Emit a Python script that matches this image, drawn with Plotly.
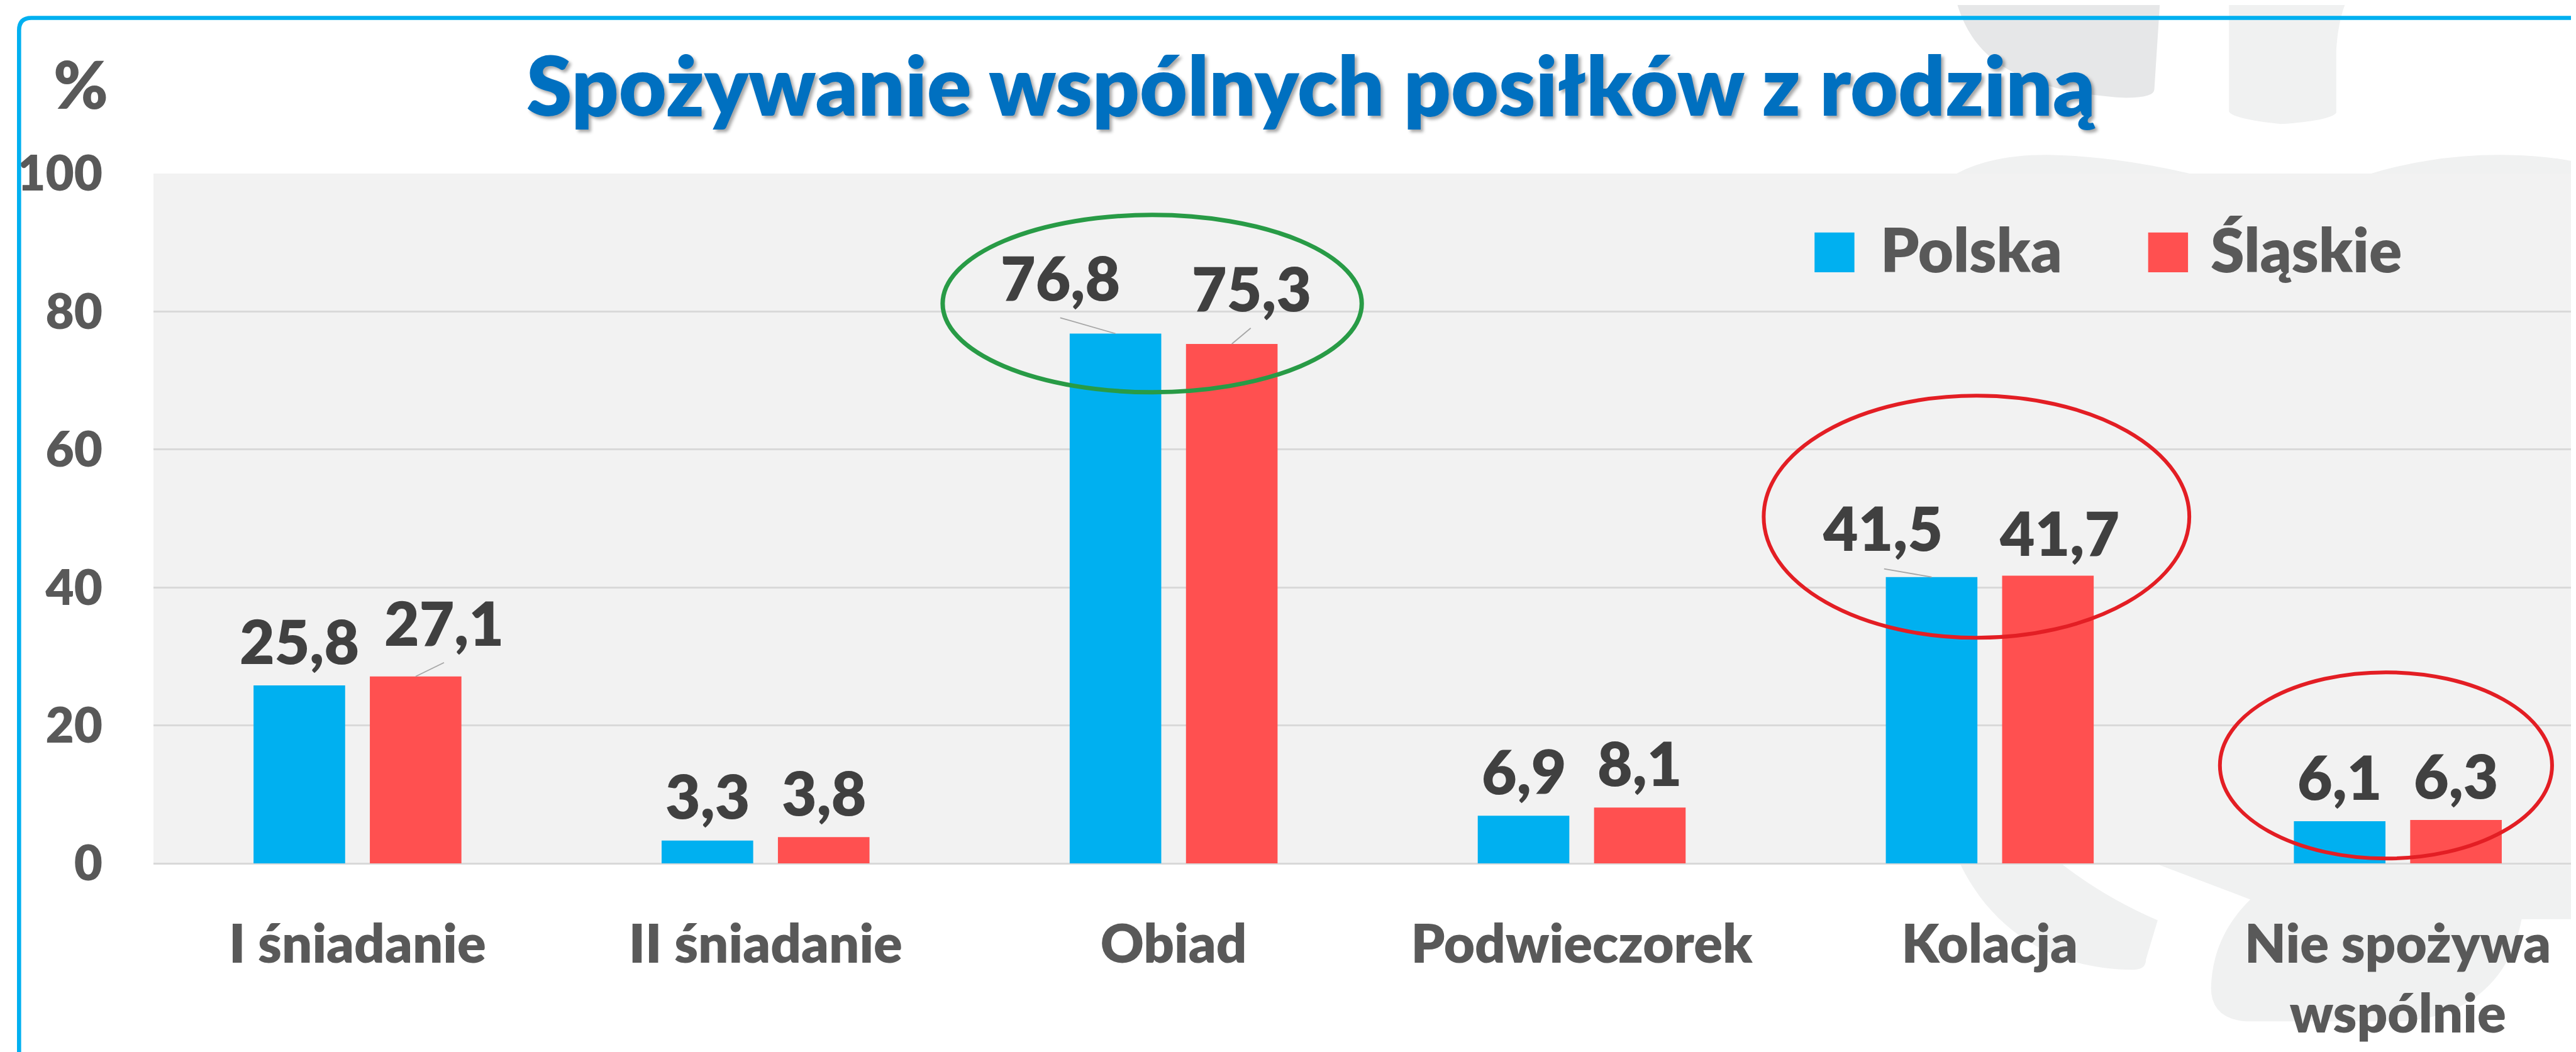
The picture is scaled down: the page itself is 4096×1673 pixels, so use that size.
import plotly.graph_objects as go

# ---------------- data ----------------
categories = ["I śniadanie", "II śniadanie", "Obiad", "Podwieczorek", "Kolacja", "Nie spożywa wspólnie"]
series_names = ["Polska", "Śląskie"]
polska = [25.8, 3.3, 76.8, 6.9, 41.5, 6.1]
slaskie = [27.1, 3.8, 75.3, 8.1, 41.7, 6.3]
y_ticks = [0, 20, 40, 60, 80, 100]
title_text = "Spożywanie wspólnych posiłków z rodziną"
y_unit = "%"

# ---------------- styles ----------------
series_colors = {"Polska": "#00B0F0", "Śląskie": "#FF5050"}
FONT = "Lato"
WEIGHT = 800
GREY_TXT = "#595959"
LABEL_TXT = "#404040"

W, H = 4096, 1673
ML, MR, MT, MB = 236, 0, 268, 308
S = 0.893                      # reference -> window scale
PL, PR, PT, PB = ML, W - MR, MT, H - MB

BARGAP = 0.43
BARGROUPGAP = 0.2126
bar_off = (1 - BARGAP) / 4     # centre offset of each bar from category centre
label_lift = 6.55              # default data-label centre above bar top (data units)

# manually moved data labels (dx from category centre, y centre, leader end)
label_moves = {
    ("Śląskie", 0): dict(dx=0.212, y=35.0, lead=(0.212, 29.1)),
    ("Polska", 2): dict(dx=-0.278, y=85.0, lead=(-0.278, 79.1)),
    ("Śląskie", 2): dict(dx=0.191, y=83.5, lead=(0.189, 77.6)),
    ("Polska", 4): dict(dx=-0.262, y=48.7, lead=(-0.259, 42.7)),
    ("Śląskie", 4): dict(dx=0.170, y=48.0, lead=None),
}

# highlight ellipses: (category index, dx0, dx1, y0, y1, colour, width)
ellipses = [
    (2, -0.566, 0.461, 68.3, 94.0, "#289B46", 7),
    (4, -0.554, 0.489, 32.7, 67.8, "#E31E24", 6),
    (5, -0.436, 0.378, 0.7, 27.7, "#E31E24", 6),
]


def px(X):
    return (X * S - PL) / (PR - PL)


def py(Y):
    return (PB - Y * S) / (PB - PT)


def path(cmds):
    out = []
    for c in cmds:
        op, vals = c[0], c[1:]
        pts = []
        for i in range(0, len(vals), 2):
            pts.append(f"{px(vals[i]):.5f},{py(vals[i + 1]):.5f}")
        out.append(op + " " + " ".join(pts) if pts else op)
    return " ".join(out)


def wrap(label):
    if len(label) > 14 and " " in label:
        a, b = label.rsplit(" ", 1)
        return a + "<br>" + b
    return label


fmt = lambda v: f"{v:.1f}".replace(".", ",")

fig = go.Figure()
for name, vals in zip(series_names, [polska, slaskie]):
    fig.add_trace(go.Bar(
        x=categories, y=vals, name=name,
        marker=dict(color=series_colors[name], line=dict(width=0)),
        showlegend=False, hoverinfo="skip",
    ))

shapes = []
annotations = []

# ---- background watermark (outside the plot area) ----
wm_dark = "#E6E7E8"
wm_light = "#F0F1F1"
wm = [
    (wm_dark, [("M", 3475, -5), ("C", 3500, 80, 3560, 150, 3770, 165),
               ("Q", 3827, 166, 3827, 150), ("L", 3837, -5), ("Z",)]),
    (wm_light, [("M", 3960, -5), ("L", 3960, 190), ("Q", 3968, 203, 4052, 212),
                ("Q", 4140, 206, 4151, 192), ("L", 4151, 80), ("Q", 4154, 30, 4168, -5), ("Z",)]),
    (wm_light, [("M", 3475, 300), ("Q", 3540, 265, 3647, 267), ("Q", 3760, 270, 3890, 300), ("Z",)]),
    (wm_light, [("M", 4213, 300), ("Q", 4330, 265, 4456, 267), ("Q", 4540, 268, 4600, 285),
                ("L", 4600, 300), ("Z",)]),
    (wm_light, [("M", 3482, 1531), ("C", 3540, 1650, 3650, 1718, 3790, 1718),
                ("Q", 3812, 1718, 3812, 1700), ("L", 3833, 1630), ("Q", 3740, 1590, 3664, 1531), ("Z",)]),
    (wm_light, [("M", 3835, 1531), ("L", 4600, 1531), ("L", 4600, 1628), ("L", 4481, 1628),
                ("C", 4460, 1740, 4380, 1810, 4250, 1810), ("L", 3990, 1810),
                ("Q", 3928, 1805, 3928, 1750), ("C", 3930, 1680, 3960, 1630, 3998, 1593), ("Z",)]),
]
for col, cmds in wm:
    shapes.append(dict(type="path", xref="paper", yref="paper", path=path(cmds),
                       fillcolor=col, line=dict(width=0), layer="below"))

# ---- blue frame (top + left) ----
shapes.append(dict(type="path", xref="paper", yref="paper",
                   path=path([("M", 25, 1900), ("L", 25, 45), ("Q", 25, 23, 47, 23), ("L", 4620, 23)]),
                   line=dict(color="#00B0F0", width=6.6), layer="above"))

# ---- data labels + leader lines ----
for si, (name, vals) in enumerate(zip(series_names, [polska, slaskie])):
    sign = -1 if si == 0 else 1
    for i, v in enumerate(vals):
        bx = i + sign * bar_off
        mv = label_moves.get((name, i))
        if mv:
            lx, ly = i + mv["dx"], mv["y"]
            if mv["lead"]:
                shapes.append(dict(type="line", xref="x", yref="y",
                                   x0=bx, y0=v, x1=i + mv["lead"][0], y1=mv["lead"][1],
                                   line=dict(color="#A6A6A6", width=1.8)))
        else:
            lx, ly = bx, v + label_lift
        annotations.append(dict(x=lx, y=ly, xref="x", yref="y", text=fmt(v), showarrow=False,
                                xanchor="center", yanchor="middle",
                                font=dict(family=FONT, size=96, color=LABEL_TXT, weight=WEIGHT)))

# ---- ellipses ----
for idx, d0, d1, y0, y1, col, lw in ellipses:
    shapes.append(dict(type="circle", xref="x", yref="y", x0=idx + d0, x1=idx + d1, y0=y0, y1=y1,
                       line=dict(color=col, width=lw), fillcolor="rgba(0,0,0,0)", layer="above"))

# ---- title ----
annotations.append(dict(x=px(2325), y=py(141), xref="paper", yref="paper", text=title_text,
                        showarrow=False, xanchor="center", yanchor="middle",
                        font=dict(family=FONT, size=131, color="#0070C0", weight=WEIGHT,
                                  shadow="4px 4px 5px rgba(0,0,0,0.35)")))
# ---- unit ----
annotations.append(dict(x=px(135), y=py(139), xref="paper", yref="paper", text=y_unit,
                        showarrow=False, xanchor="center", yanchor="middle",
                        font=dict(family=FONT, size=104, color=GREY_TXT, weight=WEIGHT)))

# ---- legend (manual) ----
leg = [("Polska", 3222, 3293, 3337), ("Śląskie", 3816, 3887, 3925)]
for name, x0, x1, tx in leg:
    shapes.append(dict(type="rect", xref="paper", yref="paper", x0=px(x0), x1=px(x1),
                       y0=py(476), y1=py(405), fillcolor=series_colors[name], line=dict(width=0)))
    annotations.append(dict(x=px(tx), y=py(434), xref="paper", yref="paper", text=name,
                            showarrow=False, xanchor="left", yanchor="middle",
                            font=dict(family=FONT, size=97, color=GREY_TXT, weight=WEIGHT)))

fig.update_layout(
    width=W, height=H, autosize=False,
    margin=dict(l=ML, r=MR, t=MT, b=MB, pad=0),
    paper_bgcolor="white", plot_bgcolor="#F2F2F2",
    barmode="group", bargap=BARGAP, bargroupgap=BARGROUPGAP,
    showlegend=False,
    shapes=shapes, annotations=annotations,
    xaxis=dict(type="category", range=[-0.5, -0.5 + (PR - PL) / (726.6 * S)],
               tickmode="array", tickvals=categories, ticktext=[wrap(c) for c in categories],
               tickfont=dict(family=FONT, size=85, color=GREY_TXT, weight=WEIGHT),
               ticks="", showgrid=False, showline=False, zeroline=False,
               ticklabelstandoff=72, fixedrange=True),
    yaxis=dict(range=[0, 100], tickmode="array", tickvals=y_ticks,
               tickfont=dict(family=FONT, size=78, color=GREY_TXT, weight=WEIGHT),
               ticks="", showgrid=True, gridcolor="#D9D9D9", gridwidth=2.5,
               zeroline=True, zerolinecolor="#D9D9D9", zerolinewidth=3,
               showline=False, ticklabelstandoff=80, fixedrange=True),
)

fig.write_html("out.html")
